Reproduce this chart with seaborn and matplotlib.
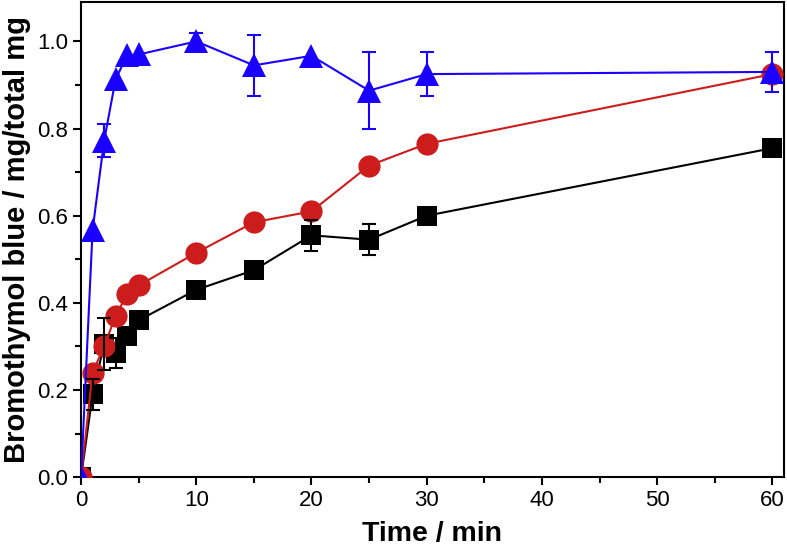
import numpy as np
import pandas as pd
import matplotlib
matplotlib.use("Agg")
import matplotlib.pyplot as plt
import seaborn as sns
from matplotlib.ticker import MultipleLocator

sns.set_style("ticks")
plt.rcParams['font.family'] = ['Liberation Sans', 'DejaVu Sans']
plt.rcParams['text.color'] = 'black'
plt.rcParams['axes.labelcolor'] = 'black'

time = [0, 1, 2, 3, 4, 5, 10, 15, 20, 25, 30, 60]
black_y = [0.0, 0.19, 0.305, 0.285, 0.325, 0.36, 0.43, 0.475, 0.555, 0.545, 0.60, 0.755]
black_err = [0, 0.035, 0.06, 0.035, 0, 0, 0, 0, 0.035, 0.035, 0, 0]
red_y = [0.0, 0.24, 0.30, 0.37, 0.42, 0.44, 0.515, 0.585, 0.61, 0.715, 0.765, 0.925]
red_err = [0] * 12
blue_y = [0.0, 0.567, 0.772, 0.913, 0.968, 0.97, 1.0, 0.945, 0.967, 0.887, 0.925, 0.93]
blue_err = [0, 0, 0.038, 0, 0, 0, 0.02, 0.07, 0, 0.088, 0.05, 0.045]

series = [
    ("black", black_y, black_err, "black", "s", 14),
    ("red", red_y, red_err, "#cc1c1c", "o", 16),
    ("blue", blue_y, blue_err, "#1a00ff", "^", 17),
]

fig = plt.figure(figsize=(7.87, 5.46), dpi=100)
ax = fig.add_axes([0.103, 0.126, 0.893, 0.870])

for name, y, err, col, mk, ms in series:
    df = pd.DataFrame({"t": time, "y": y})
    sns.lineplot(data=df, x="t", y="y", ax=ax, color=col, marker=mk,
                 markersize=ms, markeredgewidth=0, linewidth=1.5,
                 errorbar=None, zorder=3)
    e = np.array(err)
    m = e > 0
    ax.errorbar(np.array(time)[m], np.array(y)[m], yerr=e[m], fmt='none',
                ecolor=col, elinewidth=1.5, capsize=5, capthick=1.5, zorder=4)

ax.set_xlim(0, 61)
ax.set_ylim(0, 1.09)
ax.xaxis.set_major_locator(MultipleLocator(10))
ax.xaxis.set_minor_locator(MultipleLocator(5))
ax.yaxis.set_major_locator(MultipleLocator(0.2))
ax.yaxis.set_minor_locator(MultipleLocator(0.1))
ax.set_yticklabels([f"{v:.1f}" for v in ax.get_yticks()])
ax.tick_params(axis='both', which='major', direction='out', length=6, width=1.5,
               labelsize=16, colors='black', labelcolor='black')
ax.tick_params(axis='both', which='minor', direction='out', length=4, width=1.5,
               colors='black')
for s in ax.spines.values():
    s.set_linewidth(1.5)
    s.set_visible(True)
    s.set_color('black')

ax.set_xlabel("Time / min", fontsize=20.5, fontweight='bold', labelpad=7, color='black')
ax.set_ylabel("Bromothymol blue / mg/total mg", fontsize=21, fontweight='bold',
              labelpad=4, color='black')

fig.savefig("out.png", dpi=100)
